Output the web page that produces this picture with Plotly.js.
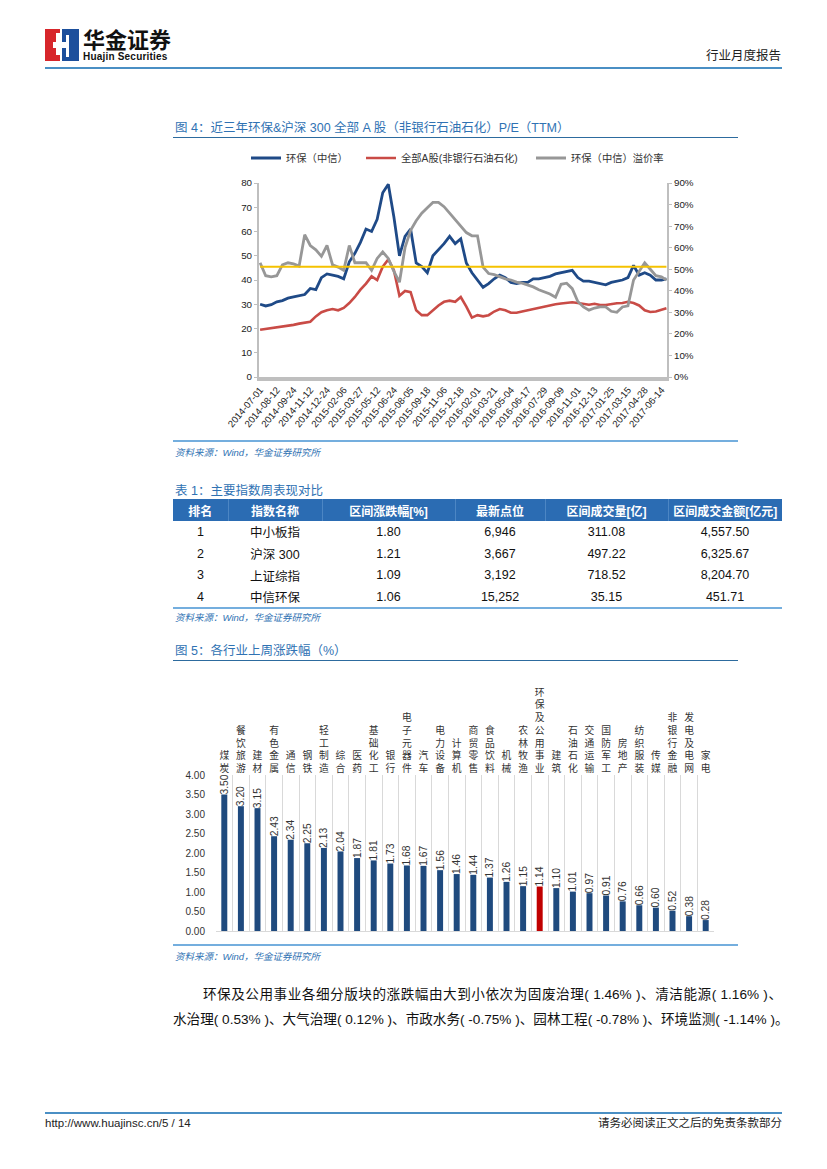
<!DOCTYPE html>
<html><head><meta charset="utf-8">
<script src="https://cdn.plot.ly/plotly-3.0.1.min.js"></script>
<style>
@font-face{font-family:"CJKTight";src:local("Noto Sans CJK SC Bold"),local("NotoSansCJKsc-Bold"),local("Noto Sans CJK SC");font-weight:bold;ascent-override:90%;descent-override:10%;line-gap-override:0%;}
body{margin:0;background:#fff;}
#page{position:relative;width:827px;height:1169px;overflow:hidden;background:#fff;font-family:"Liberation Sans","Noto Sans CJK SC",sans-serif;color:#111;}
.abs{position:absolute;white-space:nowrap;}
.ftitle{color:#2f72b3;font-size:12.5px;line-height:14px;}
.src{color:#2f72b3;font-size:9.5px;font-style:italic;line-height:11px;}
.rule{position:absolute;}
#tbl{position:absolute;left:173px;top:499px;width:609px;border-collapse:collapse;font-size:12.5px;}
#tbl th{background:#2b6cb3;color:#fff;font-weight:bold;height:22px;padding:0;font-size:12px;border-left:1px solid #4c86c4;}
#tbl th:first-child{border-left:none;}
#tbl td{height:21.7px;padding:0;text-align:center;color:#111;}
.para{position:absolute;left:173px;width:609px;font-size:13.6px;line-height:16px;text-align:justify;text-align-last:justify;white-space:nowrap;color:#111;}
</style></head>
<body>
<div id="page">
  <!-- header -->
  <svg class="abs" style="left:45px;top:29px" width="34" height="32" viewBox="0 0 34 32">
    <rect x="0" y="0" width="15" height="32" fill="#d7262b"/>
    <rect x="17" y="0" width="17" height="32" fill="#1c4f9c"/>
    <polygon points="11,4 15,4 15,13 21,13 21,6 24,6 24,28 21,28 21,19 15,19 15,26 11,26 11,19 8,19 8,13 11,13" fill="#fff"/>
  </svg>
  <div class="abs" style="left:83px;top:28px;font-size:22px;font-weight:bold;line-height:22px;font-family:'CJKTight','Noto Sans CJK SC';color:#111;">华金证券</div>
  <div class="abs" style="left:83px;top:51.5px;font-size:10px;font-weight:bold;line-height:10px;color:#111;letter-spacing:0.2px;">Huajin Securities</div>
  <div class="abs" style="left:706px;top:49px;font-size:12.5px;line-height:15px;color:#222;">行业月度报告</div>
  <div class="rule" style="left:45px;top:67px;width:737px;height:2px;background:#4a8fc4;"></div>

  <!-- figure 4 -->
  <div class="abs ftitle" style="left:175px;top:121px;">图 4：近三年环保&amp;沪深 300 全部 A 股（非银行石油石化）P/E（TTM）</div>
  <div class="rule" style="left:173px;top:137px;width:565px;height:1px;background:#2d6b9e;"></div>
  <div id="fig4" class="abs" style="left:170px;top:140px;width:570px;height:310px;"></div>
  <div class="rule" style="left:173px;top:440px;width:565px;height:1.5px;background:#74aede;"></div>
  <div class="abs src" style="left:175px;top:447px;">资料来源：Wind，华金证券研究所</div>

  <!-- table 1 -->
  <div class="abs ftitle" style="left:175px;top:484px;">表 1：主要指数周表现对比</div>
  <table id="tbl"></table>
  <div class="rule" style="left:173px;top:607px;width:609px;height:1.5px;background:#74aede;"></div>
  <div class="abs src" style="left:175px;top:612px;">资料来源：Wind，华金证券研究所</div>

  <!-- figure 5 -->
  <div class="abs ftitle" style="left:175px;top:644px;">图 5：各行业上周涨跌幅（%）</div>
  <div class="rule" style="left:173px;top:660px;width:565px;height:1px;background:#2d6b9e;"></div>
  <div id="fig5" class="abs" style="left:170px;top:668px;width:570px;height:282px;"></div>
  <div class="rule" style="left:173px;top:944px;width:565px;height:1.5px;background:#74aede;"></div>
  <div class="abs src" style="left:175px;top:951px;">资料来源：Wind，华金证券研究所</div>

  <!-- paragraph -->
  <div class="para" style="top:987px;padding-left:30px;width:579px;">环保及公用事业各细分版块的涨跌幅由大到小依次为固废治理( 1.46% )、清洁能源( 1.16% )、</div>
  <div class="para" style="top:1012px;">水治理( 0.53% )、大气治理( 0.12% )、市政水务( -0.75% )、园林工程( -0.78% )、环境监测( -1.14% )。</div>

  <!-- footer -->
  <div class="rule" style="left:45px;top:1112px;width:737px;height:2px;background:#4a8fc4;"></div>
  <div class="abs" style="left:45px;top:1116px;font-size:11.5px;line-height:14px;color:#222;">http://www.huajinsc.cn/5 / 14</div>
  <div class="abs" style="left:581px;top:1116px;width:201px;text-align:right;font-size:11.5px;line-height:14px;color:#222;">请务必阅读正文之后的免责条款部分</div>
</div>

<script>
// ---------------- Figure 4 data ----------------
const lineTickDates = ['2014-07-01','2014-08-12','2014-09-24','2014-11-12','2014-12-24','2015-02-06','2015-03-27','2015-05-12','2015-06-24','2015-08-05','2015-09-18','2015-11-06','2015-12-18','2016-02-01','2016-03-21','2016-05-04','2016-06-17','2016-07-29','2016-09-09','2016-11-01','2016-12-13','2017-01-25','2017-03-15','2017-04-28','2017-06-14'];
const tradingDaysPerTick = 30;
// trading-day index of each sampled point
const sampleDay = [0,10,20,30,40,50,60,70,80,90,100,110,120,130,140,150,160,170,180,190,200,210,220,230,240,250,260,270,280,290,300,310,320,330,340,350,360,370,380,390,400,410,420,430,440,450,460,470,480,490,500,510,520,530,540,550,560,570,580,590,600,610,620,630,640,650,660,670,680,690,700,710,720,729];
const hbPE = [30,29.3,29.8,31,31.5,32.5,33,33.5,34,36.5,36,41,42.5,42,41.5,40.5,47.5,51,55.5,61,60,65,76,79.5,66,50,58,61,47,45.5,43,50,52.5,55,58,55,57,47,43,40,37,38.5,40.5,42,41,39,38.5,39,39,40.5,40.5,41,41.5,42.5,43,43.5,44,41,39.5,39.5,39,38.5,38,39,39.5,40,41,46,42,43,42,40,40,40.5];
const allAPE = [19.5,19.8,20.2,20.5,20.8,21.2,21.5,22,22.3,22.8,25,26.7,27.5,28,27.5,28.5,30.5,33,36,38.5,41.5,40,45.5,48.5,44,33.5,35.5,35,27.5,25.5,25.5,27.5,29.5,31,31.5,31,33,29,24.5,25.5,25,25.5,27,28,27.5,26.5,26.5,27,27.5,28,28.5,29.2,29.7,30,30.3,30.4,30.8,30.5,30,29.8,30.2,29.7,29.7,30.2,30.4,30.5,31,30.5,29.5,27.5,26.8,27,27.6,28.3];
const hbPremium = [53,47,46.5,47,52,53,52.5,51.5,66,61,59,56,61,52,51,49.5,61,53,53,53,49.5,55,58,55,49,44,60,68,72.5,76,78.5,81,81,79,76,73,69.5,67,65.5,65.5,51,48,47.5,46.5,45.5,45,44,43.5,42.8,41.8,40.5,39.5,38.5,37,43,43.5,41,35,32.5,31,32,32.5,32.5,30.5,30,32.5,33,45,49,53,50,47,46.5,45];
const premiumMean = 51.2;
const lineNames = ['环保（中信）','全部A股(非银行石油石化)','环保（中信）溢价率'];

// ---------------- Table 1 data ----------------
const tblHeaders = ['排名','指数名称','区间涨跌幅[%]','最新点位','区间成交量[亿]','区间成交金额[亿元]'];
const tblRank = ['1','2','3','4'];
const tblIndex = ['中小板指','沪深 300','上证综指','中信环保'];
const tblChange = ['1.80','1.21','1.09','1.06'];
const tblLatest = ['6,946','3,667','3,192','15,252'];
const tblVolume = ['311.08','497.22','718.52','35.15'];
const tblAmount = ['4,557.50','6,325.67','8,204.70','451.71'];

// ---------------- Figure 5 data ----------------
const industries = ['煤炭','餐饮旅游','建材','有色金属','通信','钢铁','轻工制造','综合','医药','基础化工','银行','电子元器件','汽车','电力设备','计算机','商贸零售','食品饮料','机械','农林牧渔','环保及公用事业','建筑','石油石化','交通运输','国防军工','房地产','纺织服装','传媒','非银行金融','发电及电网','家电'];
const weeklyChange = [3.50,3.20,3.15,2.43,2.34,2.25,2.13,2.04,1.87,1.81,1.73,1.68,1.67,1.56,1.46,1.44,1.37,1.26,1.15,1.14,1.10,1.01,0.97,0.91,0.76,0.66,0.60,0.52,0.38,0.28];
const highlightIndustry = '环保及公用事业';

// ---------------- table ----------------
(function(){
  const colW = [55,94,133,90,123,114];
  let h = '<colgroup>' + colW.map(w=>'<col style="width:'+w+'px">').join('') + '</colgroup>';
  h += '<tr>' + tblHeaders.map(t=>'<th>'+t+'</th>').join('') + '</tr>';
  for(let i=0;i<tblRank.length;i++){
    h += '<tr><td>'+tblRank[i]+'</td><td>'+tblIndex[i]+'</td><td>'+tblChange[i]+'</td><td>'+tblLatest[i]+'</td><td>'+tblVolume[i]+'</td><td>'+tblAmount[i]+'</td></tr>';
  }
  document.getElementById('tbl').innerHTML = h;
})();

const FONT = '"Liberation Sans","Noto Sans CJK SC",sans-serif';

// ---------------- Figure 4 ----------------
(function(){
  const tickvals = lineTickDates.map((d,i)=>i*tradingDaysPerTick);
  const traces = [
    {x:sampleDay, y:hbPE, name:lineNames[0], mode:'lines', line:{color:'#1f4a87', width:2.8}, yaxis:'y', legend:'legend'},
    {x:sampleDay, y:allAPE, name:lineNames[1], mode:'lines', line:{color:'#c94b46', width:2.6}, yaxis:'y', legend:'legend2'},
    {x:sampleDay, y:hbPremium, name:lineNames[2], mode:'lines', line:{color:'#979797', width:2.8}, yaxis:'y2', legend:'legend3'},
    {x:[sampleDay[0], sampleDay[sampleDay.length-1]], y:[premiumMean, premiumMean], mode:'lines', line:{color:'#f5c200', width:2}, yaxis:'y2', showlegend:false, hoverinfo:'skip'}
  ];
  const legBase = {orientation:'h', xref:'container', xanchor:'left', yref:'container', y:1-18/310, yanchor:'middle',
      font:{size:10.3, color:'#333'}, itemwidth:30, bgcolor:'rgba(0,0,0,0)'};
  const layout = {
    width:570, height:310,
    margin:{l:89, r:73, t:43, b:73, autoexpand:false},
    paper_bgcolor:'rgba(0,0,0,0)', plot_bgcolor:'rgba(0,0,0,0)',
    font:{family:FONT, size:9.5, color:'#333'},
    showlegend:true,
    legend:Object.assign({}, legBase, {x:76/570}),
    legend2:Object.assign({}, legBase, {x:191/570}),
    legend3:Object.assign({}, legBase, {x:361/570}),
    xaxis:{range:[-2,730], tickmode:'array', tickvals:tickvals, ticktext:lineTickDates, tickangle:-50, tickfont:{size:9.6, color:'#222'},
      showline:true, linecolor:'#bfbfbf', linewidth:3.5, showgrid:false, zeroline:false, ticks:'', fixedrange:true, automargin:false},
    yaxis:{range:[0,80], dtick:10, showline:true, linecolor:'#bfbfbf', linewidth:2, ticks:'outside', ticklen:3, tickcolor:'#bfbfbf',
      showgrid:false, zeroline:false, tickfont:{size:9.8, color:'#222'}, automargin:false},
    yaxis2:{range:[0,90], dtick:10, overlaying:'y', side:'right', ticksuffix:'%', showline:true, linecolor:'#bfbfbf', linewidth:2,
      ticks:'outside', ticklen:3, tickcolor:'#bfbfbf', showgrid:false, zeroline:false, tickfont:{size:9.8, color:'#222'}, automargin:false}
  };
  Plotly.newPlot('fig4', traces, layout, {displayModeBar:false, staticPlot:true});
})();

// ---------------- Figure 5 ----------------
(function(){
  const stacked = industries.map(s=>s.split('').join('<br>'));
  const colors = industries.map(s=> s===highlightIndustry ? '#c00000' : '#1f4a7e');
  const trace = {
    type:'bar', x:stacked, y:weeklyChange, width:0.36,
    marker:{color:colors},
    text:weeklyChange.map(v=>v.toFixed(2)), textposition:'outside', textangle:-90,
    textfont:{size:10.3, color:'#333'}, cliponaxis:false, constraintext:'none', hoverinfo:'skip'
  };
  const layout = {
    width:570, height:282,
    margin:{l:46.4, r:25.6, t:107, b:19.3, autoexpand:false},
    paper_bgcolor:'rgba(0,0,0,0)', plot_bgcolor:'rgba(0,0,0,0)',
    font:{family:FONT, size:10, color:'#333'},
    showlegend:false, bargap:0.64,
    xaxis:{type:'category', side:'top', tickson:'boundaries', showgrid:true, gridcolor:'#d9d9d9', gridwidth:1,
      ticks:'', showline:false, zeroline:false, tickangle:0, tickfont:{size:9.8, color:'#333', family:'"Noto Sans CJK SC",sans-serif'},
      automargin:false, fixedrange:true},
    yaxis:{range:[0,4], dtick:0.5, tickformat:'.2f', showgrid:false, zeroline:true, zerolinecolor:'#d9d9d9', zerolinewidth:1,
      showline:false, ticks:'', ticklabelstandoff:10, tickfont:{size:10, color:'#333'}, automargin:false}
  };
  Plotly.newPlot('fig5', [trace], layout, {displayModeBar:false, staticPlot:true});
})();
</script>
</body></html>
